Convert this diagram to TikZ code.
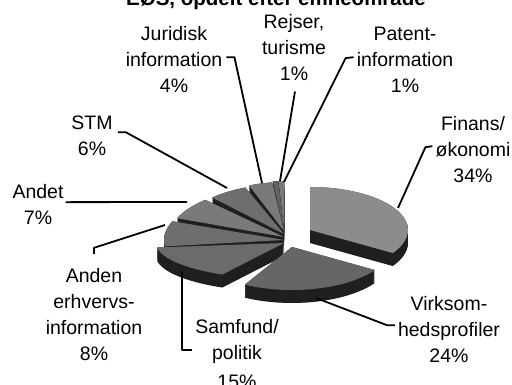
\documentclass[tikz,border=0pt]{standalone}
\usepackage{fontspec}
\setmainfont{Liberation Sans}
\usetikzlibrary{calc}
\tikzset{
  lbl/.style={align=center, inner sep=0pt, anchor=north, font=\fontsize{19.5}{26}\selectfont},
  ttl/.style={inner sep=0pt, anchor=base, font=\fontsize{20.5}{24}\selectfont\bfseries},
  leader/.style={draw=black, line width=1.8pt, line join=round},
}
% #1 ax, #2 ay (pixels, downwards), #3 start, #4 end, #5 rx, #6 ry, #7 thickness, #8 top colour
\newcommand\pieslice[8]{%
  \foreach \kk in {0,...,#7}{%
    \fill[black!88] (#1,-#2-\kk) -- ++(#3:#5 and #6) arc[start angle=#3, end angle=#4, x radius=#5, y radius=#6] -- cycle;
  }%
  \fill[#8] (#1,-#2) -- ++(#3:#5 and #6) arc[start angle=#3, end angle=#4, x radius=#5, y radius=#6] -- cycle;
}
\begin{document}
\begin{tikzpicture}[x=1pt,y=1pt]
\fill[white] (0,0) rectangle (512,-385);
\useasboundingbox (0,0) rectangle (512,-385);

% title (cut off at the top, as in the scan)
\node[ttl] (title) at (276,-6) {EØS, opdelt efter emneområde};

% pie slices, back to front
\pieslice{284}{230}{90}{93.6}{90}{49}{12}{black!52}
\pieslice{284}{230}{93.6}{97.2}{90}{49}{12}{black!62}
\pieslice{284}{231}{97.2}{111.6}{95}{49}{12}{black!52}
\pieslice{284}{234}{111.6}{133.2}{105}{50}{12}{black!57}
\pieslice{284}{237}{133.2}{158.4}{115}{51}{12}{black!52}
\pieslice{284}{240}{158.4}{187.2}{120}{51}{12}{black!57}
\pieslice{284}{243}{187.2}{241.2}{128}{36}{13}{black!58}
\pieslice{310}{230}{-32.4}{90}{98}{43}{13}{black!45}
\pieslice{292}{247}{241.2}{327.6}{98}{43}{13}{black!60}

% attachment points on the slices
\coordinate (jurP) at (262,-183);
\coordinate (rejP) at (280,-181);
\coordinate (patP) at (284,-182);
\coordinate (finP) at (398,-208);
\coordinate (virP) at (316,-298);
\coordinate (samP) at (182,-272);
\coordinate (andenP) at (165,-225);
\coordinate (andetP) at (187,-202);
\coordinate (stmP) at (227,-188);

% labels
\node[lbl] (jur) at (174,-21.8) {\strut Juridisk\\information\\4\%};
\node[lbl] (rej) at (294,-9.8) {\strut Rejser,\\turisme\\1\%};
\node[lbl] (pat) at (405,-21.8) {\strut Patent-\\information\\1\%};
\node[lbl] (fin) at (473,-111.8) {\strut Finans/\\økonomi\\34\%};
\node[lbl] (stm) at (92,-110.8) {\strut STM\\6\%};
\node[lbl] (andet) at (38,-179.8) {\strut Andet\\7\%};
\node[lbl] (anden) at (94,-263.8) {\strut Anden\\erhvervs-\\information\\8\%};
\node[lbl] (samf) at (237,-314.8) {\strut Samfund/\\politik\\[3pt]15\%};
\node[lbl] (vir) at (449,-291.8) {\strut Virksom-\\hedsprofiler\\24\%};

% leader lines
\draw[leader] ($(jur.east)+(4,0)$) -- ++(8,0) -- (jurP);
\draw[leader] ($(rej.south)+(1,-11)$) -- (rejP);
\draw[leader] ($(pat.west)+(-3,0)$) -- ++(-8,-1) -- (patP);
\draw[leader] ($(fin.west)+(-3,1)$) -- ++(-7,-1) -- (finP);
\draw[leader] ($(vir.west)+(-3,2)$) -- ++(-8,0) -- (virP);
\draw[leader] ($(samf.west)+(-3,2)$) -- ++(-10,0) |- (samP);
\draw[leader] ($(anden.north)+(0,10)$) -- ++(0,6) -- (andenP);
\draw[leader] ($(andet.east)+(2,0)$) -- (andetP);
\draw[leader] ($(stm.east)+(5,1)$) -- ++(8,0) -- (stmP);
\end{tikzpicture}
\end{document}
